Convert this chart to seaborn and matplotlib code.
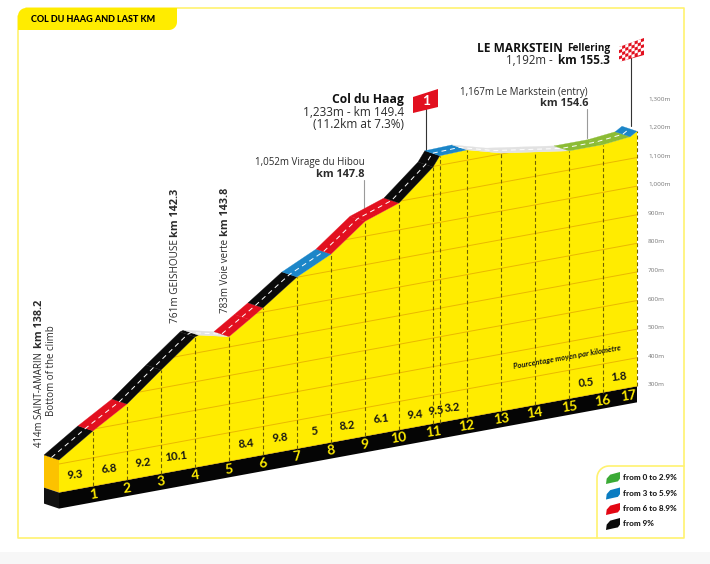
import matplotlib
matplotlib.use("Agg")
import matplotlib.pyplot as plt
from matplotlib.patches import Polygon, Rectangle
import numpy as np
import pandas as pd
import seaborn as sns

# Climb profile: kilometre of the climb and altitude in metres
station_km = [0, 1, 2, 3, 4, 4.1, 5, 5.6, 6, 7, 8, 9, 10, 11, 11.2, 12, 13, 14, 15, 16, 16.8, 17]
station_alt = [414, 494, 566, 663, 757, 761, 736, 783, 815, 901, 959, 1052, 1094, 1198, 1233,
               1236, 1203, 1185, 1167, 1167, 1177, 1192]
# Gradient class of each stretch between two stations
stretch_class = ["steep", "hard", "steep", "steep", "steep", "flat", "hard", "hard", "steep", "mid",
                 "hard", "hard", "steep", "steep", "mid", "flat", "flat", "flat", "easy", "easy", "mid"]

# Average gradient per kilometre, with the place it is printed at
pct_labels = ["9.3", "6.8", "9.2", "10.1", "8.4", "9.8", "5", "8.2", "6.1", "9.4", "9.5", "3.2", "0.5", "1.8"]
pct_km = [0.47, 1.47, 2.47, 3.45, 5.5, 6.5, 7.5, 8.47, 9.47, 10.47, 11.08, 11.58, 15.5, 16.47]
pct_alt = [354, 350, 350, 350, 350, 350, 350, 350, 350, 345, 343, 343, 344, 344]

km_marks = list(range(1, 18))
alt_ticks = list(range(300, 1400, 100))
base_alt = 300

road_colors = {"steep": "#0a0a0a", "hard": "#e2101f", "mid": "#1c86c8", "easy": "#8cbc35", "flat": "#e2e2e2"}
legend_labels = ["from 0 to 2.9%", "from 3 to 5.9%", "from 6 to 8.9%", "from 9%"]
legend_colors = ["#3aaa35", "#0a7cc1", "#e30613", "#0a0a0a"]

YELLOW = "#ffec00"
FRAME = "#fff270"
TEXT = "#2b2b2b"
TIGHT = ["Lato", "DejaVu Sans"]
SANS = ["Open Sans", "DejaVu Sans"]


def px(km, alt):
    """Oblique projection of (km, altitude) on the page, in pixels."""
    km, alt = np.asarray(km, float), np.asarray(alt, float)
    return 59 + 34 * km, 578.4 - 6.25 * km - 0.286 * alt


def arc(cx, cy, r, a0, a1, n=10):
    """Points of a circular corner, angles in degrees on a y-down page."""
    t = np.radians(np.linspace(a0, a1, n))
    return np.c_[cx + r * np.cos(t), cy + r * np.sin(t)]


sns.set_theme(style="white")
plt.rcParams["font.family"] = SANS
fig = plt.figure(figsize=(7.1, 5.64), dpi=100)
ax = fig.add_axes([0, 0, 1, 1])
ax.axis("off")

# Page furniture: footer tint, frame, title tab
ax.add_patch(Rectangle((0, 552), 710, 12, fc="#f7f7f7", ec="none", zorder=0))
ax.plot([26, 684, 684, 18, 18], [8, 8, 538, 538, 16], color=FRAME, lw=1.2, zorder=1)
tab = np.r_[arc(26, 16, 8, 180, 270), [[177, 8]], arc(169, 22, 8, 0, 90), [[18, 30]]]
ax.add_patch(Polygon(tab, fc=YELLOW, ec="none", zorder=2))
ax.text(31, 19.5, "COL DU HAAG AND LAST KM", family=TIGHT, weight="black", fontsize=6.5, color="black", va="center", zorder=3)

# Body of the profile
fx, fy = px(station_km, station_alt)
bx, by = px(station_km[-1], base_alt)
b0x, b0y = px(0, base_alt)
body = Polygon(np.r_[np.c_[fx, fy], [[bx, by], [b0x, b0y]]], closed=True, fc=YELLOW, ec="none", zorder=3)
ax.add_patch(body)

# Left side of the block and the black kilometre strip
STRIP = 16
DX, DY = -15, -5
ax.add_patch(Polygon([[fx[0], fy[0]], [fx[0] + DX, fy[0] + DY], [b0x + DX, b0y + DY], [b0x, b0y]], fc="#fcc200", ec="none", zorder=3))
ax.add_patch(Polygon([[b0x, b0y], [b0x + DX, b0y + DY], [b0x + DX, b0y + DY + STRIP], [b0x, b0y + STRIP]], fc="#111111", ec="none", zorder=3))
ax.add_patch(Polygon([[b0x, b0y], [bx, by], [bx, by + STRIP], [b0x, b0y + STRIP]], fc="#050505", ec="none", zorder=3))

# Altitude grid, sheared with the base and cut to the body
for alt in alt_ticks:
    gx, gy = px([0, 17], [alt, alt])
    line = ax.plot(gx, gy, color="#eab800", lw=0.7, zorder=4)[0]
    line.set_clip_path(body)
    ax.text(648, gy[1] - 1.5, f"{alt:,}m", fontsize=4.6, color="#777777", va="center", zorder=6)

# Dashed kilometre posts, plus one under the summit of the col
for km in km_marks + [11.2]:
    top = np.interp(km, station_km, station_alt)
    vx, vy = px([km, km], [base_alt, top])
    ax.plot(vx, vy, color="#6f6200", lw=0.8, linestyle=(0, (3.5, 2.2)), zorder=5)

# Road surface, one strip per stretch
for i, name in enumerate(stretch_class):
    pts = [[fx[i], fy[i]], [fx[i + 1], fy[i + 1]], [fx[i + 1] + DX, fy[i + 1] + DY], [fx[i] + DX, fy[i] + DY]]
    ax.add_patch(Polygon(pts, fc=road_colors[name], ec=road_colors[name], lw=0.2, zorder=6))

# White centre line of the road
centre = pd.DataFrame({"x": fx + DX / 2, "y": fy + DY / 2})
sns.lineplot(data=centre, x="x", y="y", sort=False, estimator=None, color="white", lw=0.7,
             linestyle=(0, (5, 4)), ax=ax, zorder=7)

# Gradient figures and kilometre numbers
for label, km, alt in zip(pct_labels, pct_km, pct_alt):
    x, y = px(km, alt)
    ax.text(x, y, label, family=TIGHT, weight="bold", fontsize=8.2, color="#151515", rotation=6,
            ha="center", va="center", rotation_mode="anchor", zorder=8)
for km in km_marks:
    x, y = px(km if km < 17 else km - 0.25, base_alt)
    ax.text(x, y + 8, str(km), family=TIGHT, weight="bold", fontsize=10, color=YELLOW, rotation=8,
            ha="center", va="center", rotation_mode="anchor", zorder=8)
ax.text(567, 357, "Pourcentage moyen par kilomètre", family=TIGHT, weight="bold", style="italic", fontsize=5.5,
        color="#151515", rotation=10, ha="center", va="center", rotation_mode="anchor", zorder=8)


def say(x, y, s, bold=False, size=7.0, ha="right", rot=0, color=TEXT, va="center"):
    ax.text(x, y, s, fontsize=size, weight="bold" if bold else "normal", color=color, ha=ha, va=va,
            rotation=rot, rotation_mode="anchor" if rot == 0 else "default", zorder=9)


# Rotated place names along the first half of the climb
say(40, 447, "414m SAINT-AMARIN", ha="center", rot=90, va="bottom", size=6.9)
say(40, 348, "km 138.2", bold=True, ha="center", rot=90, va="bottom", size=7.8)
say(52, 416, "Bottom of the climb", ha="center", rot=90, va="bottom", size=7.0)
say(176, 323, "761m GEISHOUSE", ha="center", rot=90, va="bottom", size=7.2)
say(176, 237, "km 142.3", bold=True, ha="center", rot=90, va="bottom", size=7.8)
say(225, 313, "783m Voie verte", ha="center", rot=90, va="bottom", size=7.0)
say(225, 236, "km 143.8", bold=True, ha="center", rot=90, va="bottom", size=7.8)

# Horizontal callouts
say(365, 163, "1,052m Virage du Hibou")
say(365, 174.5, "km 147.8", bold=True, size=7.9)
ax.plot([364, 364], [180, 208], color="#9a9a9a", lw=0.8, zorder=5)
say(588, 92, "1,167m Le Markstein (entry)")
say(588, 104, "km 154.6", bold=True, size=7.9)
ax.plot([587, 587], [109, 138], color="#9a9a9a", lw=0.8, zorder=5)
say(404, 100, "Col du Haag", bold=True, size=8.7, color="#111111")
say(404, 112.5, "1,233m - km 149.4", size=8.5)
say(404, 124.5, "(11.2km at 7.3%)", size=8.5)
say(563, 48.5, "LE MARKSTEIN", bold=True, size=8.6, color="#111111")
say(610, 49, "Fellering", bold=True, size=7.2, color="#111111")
say(553, 60.5, "1,192m -", size=8.3)
say(610, 60.5, "km 155.3", bold=True, size=8.5, color="#111111")

# Summit flags
ax.plot([426, 426], [105, 152], color="#333333", lw=0.8, zorder=5)
ax.add_patch(Polygon([[413, 97], [438, 89], [438, 107], [413, 113]], fc="#e2101f", ec="none", zorder=9))
ax.text(426, 101, "1", color="white", weight="bold", fontsize=10, family=TIGHT, ha="center", va="center", zorder=10)
ax.plot([631, 631], [58, 126], color="#333333", lw=0.8, zorder=5)
ax.add_patch(Polygon([[619, 47], [644, 38], [644, 55], [619, 62]], fc="#e2101f", ec="none", zorder=9))
cols, rows = 8, 5
for c in range(cols):
    for r in range(rows):
        if (c + r) % 2 == 0:
            u0, u1 = c / cols, (c + 1) / cols
            v0, v1 = r / rows, (r + 1) / rows
            cell = [[619 + 25 * u, 47 - 9 * u + 15.5 * v] for u, v in [(u0, v0), (u1, v0), (u1, v1), (u0, v1)]]
            ax.add_patch(Polygon(cell, fc="white", ec="none", zorder=10))

# Gradient key in the lower right corner
key_edge = np.r_[[[597, 538]], arc(609, 478, 12, 180, 270), [[684, 466]]]
ax.plot(key_edge[:, 0], key_edge[:, 1], color=FRAME, lw=1.2, zorder=2)
leaf = np.array([[0, 1], [0.05, 0.55], [0.3, 0.22], [1, 0], [1, 0.55], [0.85, 0.78], [0.45, 0.88]])
for label, color, y in zip(legend_labels, legend_colors, [478, 493.5, 509, 524]):
    ax.add_patch(Polygon(leaf * [14, 12] + [606, y - 6], fc=color, ec="none", zorder=3))
    ax.text(623, y - 0.5, label, family=TIGHT, fontsize=5.9, weight="black", color="#1a1a1a", va="center", zorder=3)

ax.set_xlim(0, 710)
ax.set_ylim(564, 0)
ax.set_xlabel("")
ax.set_ylabel("")
fig.savefig("out.png", dpi=100, facecolor="white")
